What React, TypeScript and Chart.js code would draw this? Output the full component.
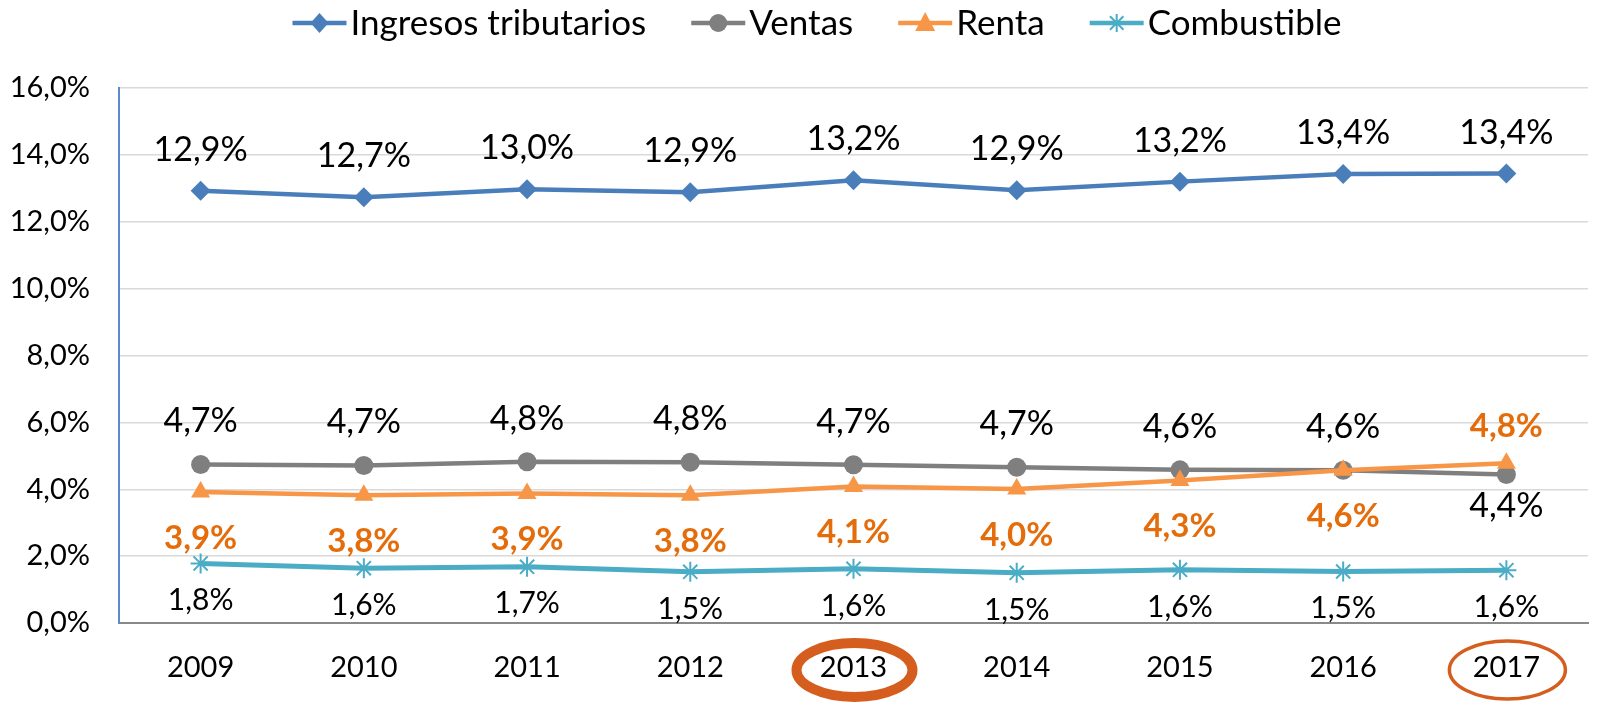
import React, { useEffect, useRef } from 'react';
import { Chart, registerables } from 'chart.js';

Chart.register(...registerables);

// ---- data ----
const years = ['2009', '2010', '2011', '2012', '2013', '2014', '2015', '2016', '2017'];
const ingresosTributarios = [12.93, 12.73, 12.97, 12.88, 13.24, 12.94, 13.2, 13.43, 13.44];
const ventas = [4.74, 4.71, 4.82, 4.81, 4.73, 4.66, 4.58, 4.57, 4.44];
const renta = [3.92, 3.82, 3.87, 3.82, 4.08, 4.01, 4.26, 4.57, 4.78];
const combustible = [1.78, 1.64, 1.68, 1.53, 1.62, 1.5, 1.59, 1.54, 1.58];
const seriesNames = ['Ingresos tributarios', 'Ventas', 'Renta', 'Combustible'];
const highlightedYears = ['2013', '2017'];
const yMin = 0;
const yMax = 16;
const yStep = 2;

const FONT = 'Lato, "Open Sans", sans-serif';
const BLUE = '#4A7EBB';
const GRAY = '#7F7F7F';
const ORANGE = '#F79646';
const TEAL = '#4BACC6';
const LABEL_ORANGE = '#E46C0A';
const RING = '#D55E1F';

const fmt = (v: number) => v.toFixed(1).replace('.', ',') + '%';

const dataLabelPlugin = {
  id: 'dataLabels',
  afterDatasetsDraw(chart: any) {
    const ctx = chart.ctx;
    ctx.save();
    ctx.textAlign = 'center';
    ctx.textBaseline = 'middle';
    chart.data.datasets.forEach((ds: any, di: number) => {
      const meta = chart.getDatasetMeta(di);
      const cfg = ds.labelCfg;
      meta.data.forEach((pt: any, i: number) => {
        const v = ds.data[i];
        let dy = cfg.dy;
        if (cfg.pairWith !== undefined) {
          const other = chart.data.datasets[cfg.pairWith].data[i];
          const above = cfg.preferAbove ? v >= other : v > other;
          dy = above ? cfg.dyAbove : cfg.dyBelow;
        }
        ctx.font = `${cfg.bold ? 'bold ' : ''}${cfg.size}px ${FONT}`;
        ctx.fillStyle = cfg.color;
        ctx.fillText(fmt(v), pt.x, pt.y + dy);
      });
    });
    ctx.restore();
  },
};

const ringPlugin = {
  id: 'rings',
  afterDraw(chart: any) {
    const ctx = chart.ctx;
    const xs = chart.scales.x;
    const rings = chart.options.plugins.rings.items;
    ctx.save();
    ctx.strokeStyle = RING;
    rings.forEach((r: any) => {
      const idx = years.indexOf(r.year);
      const x = xs.getPixelForValue(idx);
      ctx.lineWidth = r.lineWidth;
      ctx.beginPath();
      ctx.ellipse(x + 1, 670, r.rx, r.ry, 0, 0, Math.PI * 2);
      ctx.stroke();
    });
    ctx.restore();
  },
};

function drawMarker(ctx: CanvasRenderingContext2D, style: string, x: number, y: number, color: string) {
  ctx.fillStyle = color;
  ctx.strokeStyle = color;
  ctx.beginPath();
  if (style === 'rectRot') {
    ctx.moveTo(x, y - 10); ctx.lineTo(x + 9, y); ctx.lineTo(x, y + 10); ctx.lineTo(x - 9, y); ctx.closePath(); ctx.fill();
  } else if (style === 'circle') {
    ctx.arc(x, y, 9, 0, Math.PI * 2); ctx.fill();
  } else if (style === 'triangle') {
    ctx.moveTo(x, y - 11); ctx.lineTo(x + 10, y + 8); ctx.lineTo(x - 10, y + 8); ctx.closePath(); ctx.fill();
  } else {
    ctx.lineWidth = 2;
    const r = 9;
    ctx.moveTo(x - r, y); ctx.lineTo(x + r, y);
    ctx.moveTo(x, y - r); ctx.lineTo(x, y + r);
    const d = r * 0.75;
    ctx.moveTo(x - d, y - d); ctx.lineTo(x + d, y + d);
    ctx.moveTo(x - d, y + d); ctx.lineTo(x + d, y - d);
    ctx.stroke();
  }
}

const legendPlugin = {
  id: 'customLegend',
  afterDraw(chart: any) {
    const ctx = chart.ctx;
    const lineW = 54;
    const gapText = 4;
    const gapItem = 45;
    ctx.save();
    ctx.font = `35px ${FONT}`;
    ctx.textBaseline = 'middle';
    ctx.textAlign = 'left';
    const items = chart.data.datasets.map((ds: any) => ({ ds, w: ctx.measureText(ds.label).width }));
    const total = items.reduce((s: number, it: any) => s + lineW + gapText + it.w, 0) + gapItem * (items.length - 1);
    let x = chart.width / 2 + 17 - total / 2;
    const y = 23;
    items.forEach((it: any) => {
      const ds = it.ds;
      ctx.strokeStyle = ds.borderColor;
      ctx.lineWidth = 4.5;
      ctx.beginPath();
      ctx.moveTo(x, y);
      ctx.lineTo(x + lineW, y);
      ctx.stroke();
      drawMarker(ctx, ds.pointStyle, x + lineW / 2, y, ds.borderColor);
      ctx.fillStyle = '#000';
      ctx.fillText(ds.label, x + lineW + gapText, y + 1);
      x += lineW + gapText + it.w + gapItem;
    });
    ctx.restore();
  },
};

export default function App() {
  const ref = useRef<HTMLCanvasElement | null>(null);
  useEffect(() => {
    if (!ref.current) return;
    const chart = new Chart(ref.current, {
      type: 'line',
      data: {
        labels: years,
        datasets: [
          {
            label: seriesNames[0], data: ingresosTributarios, borderColor: BLUE, backgroundColor: BLUE,
            borderWidth: 4.5, pointStyle: 'rectRot', pointRadius: 10, pointBorderWidth: 0, order: 3,
            labelCfg: { dy: -41, color: '#000', size: 34, bold: false },
          } as any,
          {
            label: seriesNames[1], data: ventas, borderColor: GRAY, backgroundColor: GRAY,
            borderWidth: 4.5, pointStyle: 'circle', pointRadius: 9.5, pointBorderWidth: 0, order: 2,
            labelCfg: { pairWith: 2, preferAbove: true, dyAbove: -43, dyBelow: 31, color: '#000', size: 34, bold: false },
          } as any,
          {
            label: seriesNames[2], data: renta, borderColor: ORANGE, backgroundColor: ORANGE,
            borderWidth: 4.5, pointStyle: 'triangle', pointRadius: 11, pointBorderWidth: 0, order: 1,
            labelCfg: { pairWith: 1, preferAbove: false, dyAbove: -37, dyBelow: 46, color: LABEL_ORANGE, size: 33, bold: true },
          } as any,
          {
            label: seriesNames[3], data: combustible, borderColor: TEAL, backgroundColor: TEAL,
            borderWidth: 5, pointStyle: 'star', pointRadius: 10, pointBorderWidth: 2, order: 0,
            labelCfg: { dy: 37, color: '#000', size: 30, bold: false },
          } as any,
        ],
      },
      options: {
        animation: false,
        responsive: false,
        maintainAspectRatio: false,
        layout: { padding: { top: 88, right: 3, left: 0, bottom: 0 } },
        plugins: {
          legend: { display: false },
          tooltip: { enabled: false },
          rings: {
            items: [
              { year: highlightedYears[0], lineWidth: 10, rx: 58, ry: 27 },
              { year: highlightedYears[1], lineWidth: 3.5, rx: 58, ry: 29 },
            ],
          },
        } as any,
        scales: {
          x: {
            offset: true,
            grid: { display: false, drawTicks: false },
            border: { display: true, color: '#898989', width: 2 },
            ticks: { color: '#000', font: { family: FONT, size: 29 }, padding: 27, maxRotation: 0 },
            afterFit: (s: any) => { s.height = 81; },
          },
          y: {
            min: yMin,
            max: yMax,
            grid: { color: '#D9D9D9', lineWidth: 1.5, drawTicks: false },
            border: { display: true, color: '#5B8BC9', width: 2 },
            ticks: {
              stepSize: yStep,
              color: '#000',
              font: { family: FONT, size: 29 },
              padding: 29,
              callback: (v: any) => fmt(Number(v)),
            },
            afterFit: (s: any) => { s.width = 119; },
          },
        },
      },
      plugins: [dataLabelPlugin, ringPlugin, legendPlugin],
    });
    return () => chart.destroy();
  }, []);
  return (
    <div style={{ position: 'fixed', left: 0, top: 0, width: 1600, height: 704, background: '#fff' }}>
      <canvas ref={ref} width={1600} height={704} style={{ width: 1600, height: 704 }} />
    </div>
  );
}
